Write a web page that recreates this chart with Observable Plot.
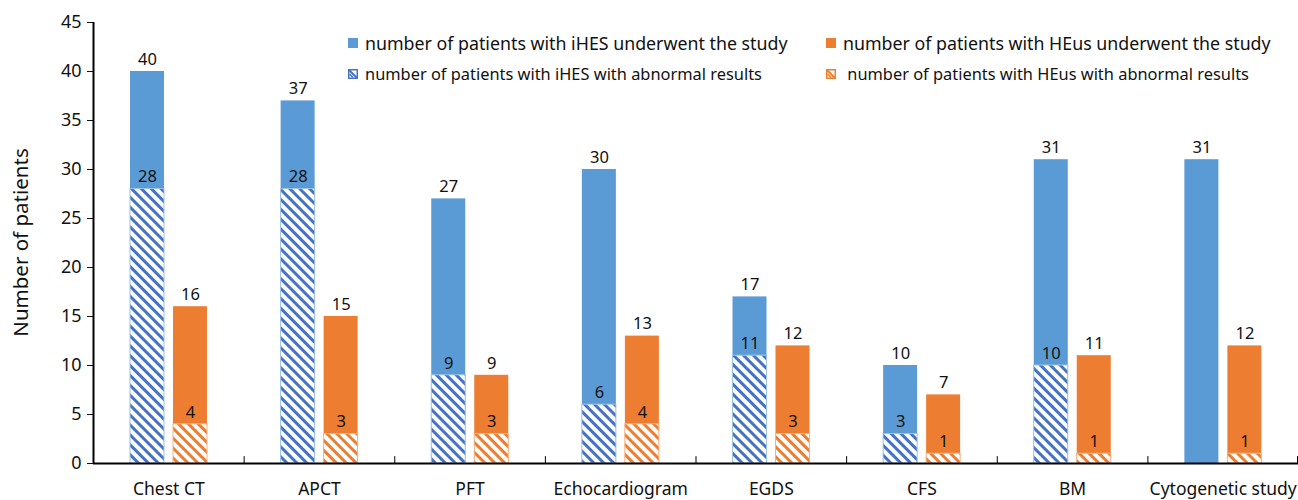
<!DOCTYPE html>
<html><head><meta charset="utf-8">
<script src="https://cdn.jsdelivr.net/npm/d3@7"></script>
<script src="https://cdn.jsdelivr.net/npm/@observablehq/plot@0.6"></script>
<style>
body{margin:0;background:#fff;font-family:"Noto Sans",sans-serif;}
#wrap{position:relative;width:1298px;height:500px;overflow:hidden;}
.leg{position:absolute;color:#111;white-space:nowrap;display:flex;align-items:center;height:22px;line-height:22px;}
.sw{width:10px;height:10px;margin-right:7px;display:inline-block;flex:none;}
</style></head><body><div id="wrap"></div>
<script>
const categories = ["Chest CT","APCT","PFT","Echocardiogram","EGDS","CFS","BM","Cytogenetic study"];
const iHESTotal = [40,37,27,30,17,10,31,31];
const iHESAbnormal = [28,28,9,6,11,3,10,null];
const HEusTotal = [16,15,9,13,12,7,11,12];
const HEusAbnormal = [4,3,3,4,3,1,1,1];
const yTicks = [0,5,10,15,20,25,30,35,40,45];
const legendLabels = [
  "number of patients with iHES underwent the study",
  "number of patients with HEus underwent the study",
  "number of patients with iHES with abnormal results",
  "number of patients with HEus with abnormal results"
];

const W = 1298, H = 500, mL = 93, mR = 0, mT = 22, mB = 37;
const bw = (W - mL - mR) / categories.length;
const barW = 34, blueLeft = 37, orangeLeft = 80;
const BLUE = "#5b9bd5", ORANGE = "#ed7d31", HBLUE = "#4472c4";

const rows = (vals) => categories.map((c, i) => ({cat: c, v: vals[i]})).filter(d => d.v != null);
const tot1 = rows(iHESTotal), tot2 = rows(HEusTotal), ab1 = rows(iHESAbnormal), ab2 = rows(HEusAbnormal);

const blueIn = {insetLeft: blueLeft, insetRight: bw - blueLeft - barW};
const orangeIn = {insetLeft: orangeLeft, insetRight: bw - orangeLeft - barW};
const dxB = blueLeft + barW / 2 - bw / 2, dxO = orangeLeft + barW / 2 - bw / 2;

const fontFam = '"Noto Sans", sans-serif';
const lab = {fontSize: 16.5, fill: "#111", dy: -12};
const svg = Plot.plot({
  width: W, height: H,
  marginLeft: mL, marginRight: mR, marginTop: mT, marginBottom: mB,
  style: {fontFamily: fontFam, color: "#111", background: "#fff"},
  x: {domain: categories, type: "band", padding: 0, round: false},
  y: {domain: [0, 45]},
  marks: [
    Plot.barY(tot1, {x: "cat", y: "v", fill: BLUE, ...blueIn}),
    Plot.barY(tot2, {x: "cat", y: "v", fill: ORANGE, ...orangeIn}),
    Plot.barY(ab1, {x: "cat", y: "v", fill: "url(#hatchBlue)", stroke: "#9dc3e6", strokeWidth: 1, ...blueIn}),
    Plot.barY(ab2, {x: "cat", y: "v", fill: "url(#hatchOrange)", stroke: "#f4b183", strokeWidth: 1, ...orangeIn}),
    Plot.text(tot1, {x: "cat", y: "v", text: "v", dx: dxB, ...lab}),
    Plot.text(tot2, {x: "cat", y: "v", text: "v", dx: dxO, ...lab}),
    Plot.text(ab1, {x: "cat", y: "v", text: "v", dx: dxB, ...lab}),
    Plot.text(ab2, {x: "cat", y: "v", text: "v", dx: dxO, ...lab}),
    Plot.axisY({ticks: yTicks, tickSize: 6, tickPadding: 6, fontSize: 18, label: null, tickFormat: d => d}),
    Plot.axisX({tickSize: 0, tickPadding: 19, fontSize: 17.5, label: null}),
    Plot.ruleX([categories[0]], {dx: -bw / 2, y1: 0, y2: 45, stroke: "#000", strokeWidth: 2}),
    Plot.ruleX(categories.slice(1), {dx: -bw / 2, y1: 0, y2: 0.7, stroke: "#000", strokeWidth: 1}),
    Plot.ruleX([categories[categories.length - 1]], {dx: bw / 2 - 1, y1: 0, y2: 0.7, stroke: "#000", strokeWidth: 1}),
    Plot.ruleY([0], {stroke: "#000", strokeWidth: 2})
  ]
});

const defs = d3.select(svg).insert("defs", ":first-child");
function hatch(id, color) {
  const s = 7;
  const p = defs.append("pattern").attr("id", id).attr("patternUnits", "userSpaceOnUse")
    .attr("width", s).attr("height", s).attr("patternTransform", "rotate(-45)");
  p.append("rect").attr("width", s).attr("height", s).attr("fill", "#fff");
  p.append("rect").attr("width", 3).attr("height", s).attr("fill", color);
}
hatch("hatchBlue", HBLUE);
hatch("hatchOrange", ORANGE);

d3.select(svg).append("text")
  .attr("transform", `translate(22,${mT + (H - mT - mB) / 2}) rotate(-90)`)
  .attr("text-anchor", "middle").attr("dominant-baseline", "middle")
  .attr("font-size", 20.5).attr("font-family", fontFam).attr("fill", "#111")
  .text("Number of patients");

const wrap = document.getElementById("wrap");
wrap.appendChild(svg);

function hatchSwatch(color) {
  return `<svg class="sw" width="10" height="10" viewBox="0 0 10 10"><rect width="10" height="10" fill="${color}"/><rect x="1.5" y="1.5" width="7" height="7" fill="#fff"/><path d="M1.5,1.5 L8.5,8.5" stroke="${color}" stroke-width="2"/><path d="M1.5,5 L5,8.5" stroke="${color}" stroke-width="1.5"/></svg>`;
}
const legendItems = [
  {x: 348, y: 32, fs: 17.8, sw: `<span class="sw" style="background:${BLUE}"></span>`, t: legendLabels[0]},
  {x: 826, y: 32, fs: 17.8, sw: `<span class="sw" style="background:${ORANGE}"></span>`, t: legendLabels[1]},
  {x: 348, y: 63, fs: 16.4, sw: hatchSwatch(HBLUE), t: legendLabels[2]},
  {x: 826, y: 63, fs: 16.4, sw: hatchSwatch(ORANGE), t: "&nbsp;" + legendLabels[3]}
];
for (const it of legendItems) {
  const d = document.createElement("div");
  d.className = "leg";
  d.style.left = it.x + "px"; d.style.top = it.y + "px"; d.style.fontSize = it.fs + "px";
  d.innerHTML = it.sw + `<span>${it.t}</span>`;
  wrap.appendChild(d);
}
</script></body></html>
